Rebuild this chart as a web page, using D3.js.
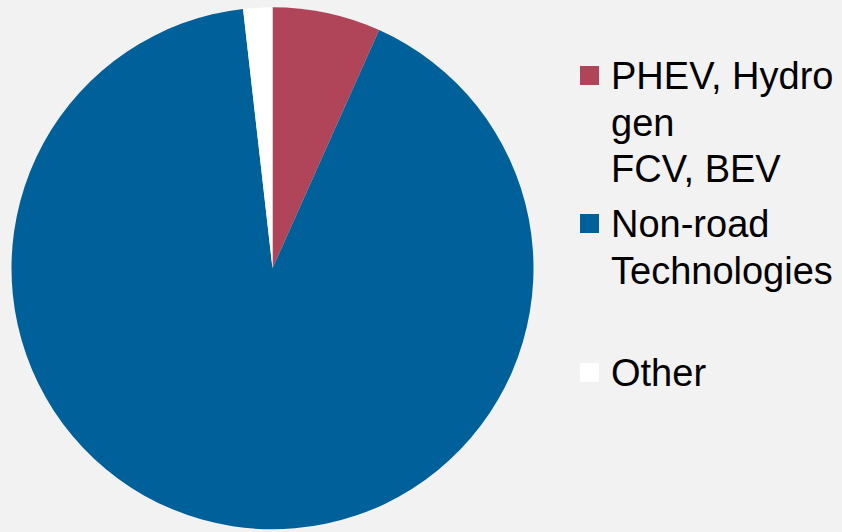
<!DOCTYPE html>
<html>
<head>
<meta charset="utf-8">
<script src="https://cdn.jsdelivr.net/npm/d3@7"></script>
<style>
  html, body { margin: 0; padding: 0; background: #F2F2F2; }
  svg { display: block; }
</style>
</head>
<body>
<svg id="chart" width="842" height="532"></svg>
<script>
// Data
const categories = ["PHEV, Hydrogen FCV, BEV", "Non-road Technologies", "Other"];
const values = [6.7, 91.5, 1.8];
const colors = ["#B0455A", "#00609A", "#FFFFFF"];
// Legend label lines as displayed (wrapped as in the original)
const legendLines = [["PHEV, Hydro", "gen", "FCV, BEV"], ["Non-road", "Technologies"], ["Other"]];

const W = 842, H = 532;
const svg = d3.select("#chart");
svg.append("rect").attr("width", W).attr("height", H).attr("fill", "#F2F2F2");

const cx = 272.5, cy = 268.3, R = 261;

const pie = d3.pie().sort(null).value(d => d.v).startAngle(0).endAngle(2 * Math.PI);
const arc = d3.arc().innerRadius(0).outerRadius(R);
const data = categories.map((c, i) => ({ c, v: values[i], col: colors[i] }));

svg.append("g")
  .attr("transform", `translate(${cx},${cy})`)
  .selectAll("path")
  .data(pie(data))
  .join("path")
  .attr("d", arc)
  .attr("fill", d => d.data.col);

// Legend
const fontSize = 38, lineH = 46.5;
const firstBaselines = [89, 237, 386];
const leg = svg.append("g");
data.forEach((d, i) => {
  const b = firstBaselines[i];
  leg.append("rect")
    .attr("x", 580).attr("y", b - 13.5 - 9.5)
    .attr("width", 19).attr("height", 19)
    .attr("fill", d.col);
  const t = leg.append("text")
    .attr("x", 611).attr("y", b)
    .attr("font-family", "'Liberation Sans', Arial, sans-serif")
    .attr("font-size", fontSize)
    .attr("fill", "#000");
  legendLines[i].forEach((ln, j) => {
    t.append("tspan").attr("x", 611).attr("y", b + j * lineH).text(ln);
  });
});
</script>
</body>
</html>
